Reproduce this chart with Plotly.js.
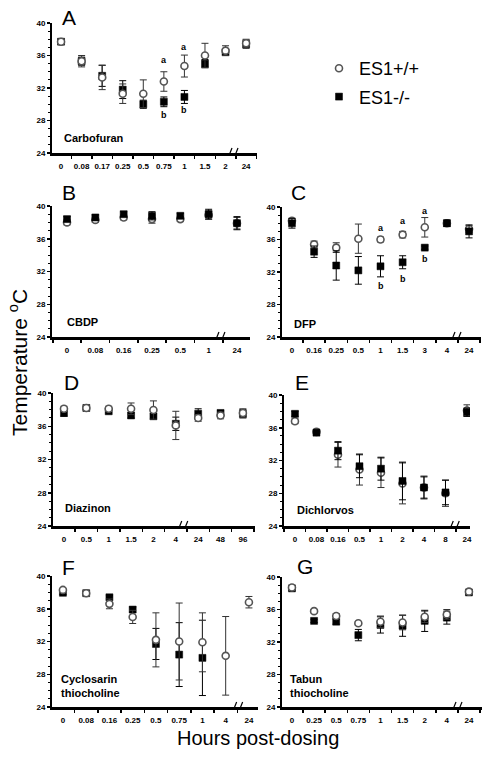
<!DOCTYPE html>
<html>
<head>
<meta charset="utf-8">
<script src="https://cdn.plot.ly/plotly-3.0.1.min.js"></script>
<style>html,body{margin:0;padding:0;background:#fff;}#chart{width:492px;height:757px;}</style>
</head>
<body>
<div id="chart"></div>
<script>
// ---------------- DATA ----------------
const seriesNames = ["ES1+/+", "ES1-/-"];

// A: Carbofuran
const catsA = ["0","0.08","0.17","0.25","0.5","0.75","1","1.5","2","24"];
const wtA    = [37.7, 35.3, 33.3, 31.3, 31.3, 32.8, 34.7, 36.0, 36.6, 37.5];
const wtErrA = [0.3, 0.7, 1.5, 1.2, 1.7, 1.2, 1.35, 1.5, 0.6, 0.5];
const koA    = [37.7, 35.3, 33.5, 31.8, 30.0, 30.3, 30.9, 35.0, 36.4, 37.4];
const koErrA = [0.3, 0.5, 1.3, 1.1, 0.5, 0.6, 0.8, 0.5, 0.4, 0.5];

// B: CBDP
const catsB = ["0","0.08","0.16","0.25","0.5","1","24"];
const wtB    = [38.0, 38.3, 38.6, 38.4, 38.4, 38.9, 37.9];
const wtErrB = [0.3, 0.3, 0.3, 0.5, 0.3, 0.5, 0.7];
const koB    = [38.4, 38.6, 39.0, 38.8, 38.8, 39.0, 37.9];
const koErrB = [0.3, 0.3, 0.3, 0.5, 0.3, 0.6, 0.8];

// C: DFP
const catsC = ["0","0.16","0.25","0.5","1","1.5","3","4","24"];
const wtC    = [38.3, 35.4, 35.0, 36.1, 36.0, 36.6, 37.5, 38.0, 37.3];
const wtErrC = [0.3, 0.4, 0.6, 1.8, 0.3, 0.4, 1.2, 0.3, 0.4];
const koC    = [38.0, 34.5, 32.8, 32.2, 32.7, 33.2, 35.0, 38.0, 37.0];
const koErrC = [0.6, 0.7, 1.8, 1.7, 1.3, 0.8, 0.2, 0.4, 0.8];

// D: Diazinon
const catsD = ["0","0.5","1","1.5","2","4","24","48","96"];
const wtD    = [38.1, 38.2, 38.1, 38.1, 37.95, 36.1, 37.0, 37.3, 37.6];
const wtErrD = [0.3, 0.2, 0.3, 0.7, 1.1, 1.7, 0.4, 0.4, 0.5];
const koD    = [37.6, 38.2, 37.8, 37.3, 37.2, 36.3, 37.5, 37.6, 37.5];
const koErrD = [0.4, 0.2, 0.2, 0.3, 0.3, 0.8, 0.6, 0.3, 0.5];

// E: Dichlorvos
const catsE = ["0","0.08","0.16","0.5","1","2","4","8","24"];
const wtE    = [36.8, 35.5, 32.7, 30.9, 30.5, 29.2, 28.7, 28.0, 38.1];
const wtErrE = [0.3, 0.3, 1.5, 1.9, 1.8, 2.5, 1.4, 1.6, 0.7];
const koE    = [37.7, 35.4, 33.2, 31.3, 31.0, 29.5, 28.7, 28.1, 37.9];
const koErrE = [0.3, 0.3, 1.1, 1.4, 1.4, 2.3, 1.3, 1.5, 0.5];

// F: Cyclosarin thiocholine
const catsF = ["0","0.08","0.16","0.25","0.5","0.75","1","4","24"];
const wtF    = [38.3, 37.9, 36.6, 35.0, 32.2, 32.0, 31.9, 30.25, 36.8];
const wtErrF = [0.2, 0.2, 0.6, 0.8, 3.3, 4.7, 3.6, 4.8, 0.7];
const koF    = [37.95, 37.9, 37.4, 35.9, 31.7, 30.4, 30.0, null, null];
const koErrF = [0.2, 0.2, 0.2, 0.3, 1.9, 3.9, 4.6, null, null];

// G: Tabun thiocholine
const catsG = ["0","0.25","0.5","0.75","1","1.5","2","4","24"];
const wtG    = [38.7, 35.8, 35.2, 34.3, 34.5, 34.4, 35.1, 35.4, 38.2];
const wtErrG = [0.2, 0.2, 0.3, 0.2, 0.7, 0.9, 0.7, 0.6, 0.2];
const koG    = [38.6, 34.6, 34.5, 32.85, 34.1, 34.0, 34.6, 35.0, 38.1];
const koErrG = [0.2, 0.2, 0.3, 0.7, 1.0, 1.3, 1.3, 0.8, 0.2];

// significance letters: [panel, category, letter, y value]
const sigLabels = [
  ["A","0.75","a",35.4],["A","0.75","b",28.7],
  ["A","1","a",37.1],["A","1","b",29.3],
  ["C","1","a",37.4],["C","1","b",30.3],
  ["C","1.5","a",38.3],["C","1.5","b",31.1],
  ["C","3","a",39.55],["C","3","b",33.6]
];

const yTicks = [24, 28, 32, 36, 40];

// ---------------- LAYOUT CONFIG ----------------
const W = 492, H = 757;
const FONT = "Liberation Sans, Arial, Helvetica, sans-serif";

const panels = [
  {id:"A", name:"Carbofuran", cats:catsA, wt:wtA, wtE:wtErrA, ko:koA, koE:koErrA,
   px:[52,257], py:[23,153], range:[-0.44,9.53], brk:8.46, letter:[69,17], label:[62,138], koTop:false},
  {id:"B", name:"CBDP", cats:catsB, wt:wtB, wtE:wtErrB, ko:koB, koE:koErrB,
   px:[52,250], py:[206,337], range:[-0.53,6.46], brk:5.47, letter:[69,193], label:[65,322], koTop:true},
  {id:"C", name:"DFP", cats:catsC, wt:wtC, wtE:wtErrC, ko:koC, koE:koErrC,
   px:[282,481], py:[207,337], range:[-0.45,8.54], brk:7.5, letter:[298,193], label:[292,324], koTop:true},
  {id:"D", name:"Diazinon", cats:catsD, wt:wtD, wtE:wtErrD, ko:koD, koE:koErrD,
   px:[53,255], py:[393,526], range:[-0.49,8.54], brk:5.4, letter:[71,382], label:[63,508], koTop:false},
  {id:"E", name:"Dichlorvos", cats:catsE, wt:wtE, wtE:wtErrE, ko:koE, koE:koErrE,
   px:[284,470], py:[395,526], range:[-0.51,8.14], brk:7.5, letter:[302,382], label:[295,510], koTop:true},
  {id:"F", name:"Cyclosarin<br>thiocholine", cats:catsF, wt:wtF, wtE:wtErrF, ko:koF, koE:koErrF,
   px:[52,258], py:[576,707], range:[-0.47,8.39], brk:7.6, letter:[68,567], label:[59,686], koTop:false},
  {id:"G", name:"Tabun<br>thiocholine", cats:catsG, wt:wtG, wtE:wtErrG, ko:koG, koE:koErrG,
   px:[282,482], py:[577,707], range:[-0.45,8.59], brk:7.55, letter:[305,566], label:[288,686], koTop:false}
];

const traces = [];
const layout = {
  width: W, height: H,
  margin: {l:0, r:0, t:0, b:0},
  paper_bgcolor: "#fff", plot_bgcolor: "rgba(0,0,0,0)",
  font: {family: FONT, color: "#000"},
  showlegend: true,
  legend: {x: 319/W, y: 1 - 50/H, xanchor: "left", yanchor: "top",
           font: {size: 18, family: FONT}, bgcolor: "rgba(0,0,0,0)",
           tracegroupgap: 2, itemclick: false},
  annotations: [], shapes: []
};

panels.forEach((p, i) => {
  const n = i + 1;
  const xa = "xaxis" + (n === 1 ? "" : n), ya = "yaxis" + (n === 1 ? "" : n);
  const xr = "x" + (n === 1 ? "" : n), yr = "y" + (n === 1 ? "" : n);

  const wtTrace = {
    type: "scatter", mode: "markers", name: seriesNames[0], legendgroup: "wt", legendrank: 1,
    showlegend: i === 0, x: p.cats, y: p.wt, xaxis: xr, yaxis: yr,
    error_y: {type: "data", array: p.wtE, visible: true, color: "#333", thickness: 1, width: 3.5},
    marker: {symbol: "circle", size: 7, color: "#fff", line: {color: "#555", width: 1.6}},
    hoverinfo: "x+y"
  };
  const koTrace = {
    type: "scatter", mode: "markers", name: seriesNames[1], legendgroup: "ko", legendrank: 2,
    showlegend: i === 0, x: p.cats, y: p.ko, xaxis: xr, yaxis: yr,
    error_y: {type: "data", array: p.koE, visible: true, color: "#000", thickness: 1, width: 3.5},
    marker: {symbol: "square", size: 7, color: "#000", line: {color: "#000", width: 0.5}},
    hoverinfo: "x+y"
  };
  if (p.koTop) { traces.push(wtTrace, koTrace); } else { traces.push(koTrace, wtTrace); }

  layout[xa] = {
    domain: [p.px[0]/W, p.px[1]/W], anchor: yr, type: "category",
    categoryorder: "array", categoryarray: p.cats, range: p.range,
    showline: true, linecolor: "#000", linewidth: 2.5, showgrid: false, zeroline: false,
    ticks: "outside", tickson: "boundaries", ticklen: 3, tickwidth: 1.5, tickcolor: "#000",
    tickangle: 0, ticklabelstandoff: 4,
    tickfont: {size: 8, family: FONT, weight: "bold", color: "#000"}, fixedrange: true
  };
  layout[ya] = {
    domain: [1 - p.py[1]/H, 1 - p.py[0]/H], anchor: xr, range: [24, 40],
    tickmode: "array", tickvals: yTicks, ticktext: yTicks.map(String),
    showline: true, linecolor: "#000", linewidth: 2, showgrid: false, zeroline: false,
    ticks: "outside", ticklen: 3, tickwidth: 1.5, tickcolor: "#000", tickangle: 0,
    minor: {tickmode: "linear", tick0: 24, dtick: 1, ticks: "outside", ticklen: 2, tickcolor: "#000", tickwidth: 1},
    tickfont: {size: 8, family: FONT, weight: "bold", color: "#000"}, fixedrange: true
  };

  // panel letter
  layout.annotations.push({xref: "paper", yref: "paper", x: p.letter[0]/W, y: 1 - p.letter[1]/H,
    xanchor: "center", yanchor: "middle", text: p.id, showarrow: false,
    font: {size: 21, family: FONT, color: "#000"}});
  // compound label
  layout.annotations.push({xref: "paper", yref: "paper", x: p.label[0]/W, y: 1 - p.label[1]/H,
    xanchor: "left", yanchor: "middle", align: "left", text: "<b>" + p.name + "</b>", showarrow: false,
    font: {size: 11, family: FONT, color: "#000"}});

  // axis break mark
  layout.shapes.push({type: "rect", xref: xr, yref: yr, xsizemode: "pixel", ysizemode: "pixel",
    xanchor: p.brk, yanchor: 24, x0: -3, x1: 1, y0: -3, y1: 3,
    fillcolor: "#fff", line: {width: 0}, layer: "above"});
  [[-7,-5,-3,5],[-1,-5,3,5]].forEach(s => {
    layout.shapes.push({type: "line", xref: xr, yref: yr, xsizemode: "pixel", ysizemode: "pixel",
      xanchor: p.brk, yanchor: 24, x0: s[0], y0: s[1], x1: s[2], y1: s[3],
      line: {color: "#000", width: 1.2}, layer: "above"});
  });

  // significance letters
  sigLabels.filter(s => s[0] === p.id).forEach(s => {
    layout.annotations.push({xref: xr, yref: yr, x: p.cats.indexOf(s[1]), y: s[3],
      text: "<b>" + s[2] + "</b>", showarrow: false, xanchor: "center", yanchor: "middle",
      font: {size: 9, family: FONT, color: "#000"}});
  });
});

// global axis titles
layout.annotations.push({xref: "paper", yref: "paper", x: 18/W, y: 1 - 363/H, textangle: -90,
  xanchor: "center", yanchor: "middle", text: "Temperature <sup>o</sup>C", showarrow: false,
  font: {size: 21, family: FONT, color: "#000"}});
layout.annotations.push({xref: "paper", yref: "paper", x: 258/W, y: 1 - 738/H,
  xanchor: "center", yanchor: "middle", text: "Hours post-dosing", showarrow: false,
  font: {size: 20, family: FONT, color: "#000"}});

Plotly.newPlot("chart", traces, layout, {displayModeBar: false, staticPlot: true});
</script>
</body>
</html>
